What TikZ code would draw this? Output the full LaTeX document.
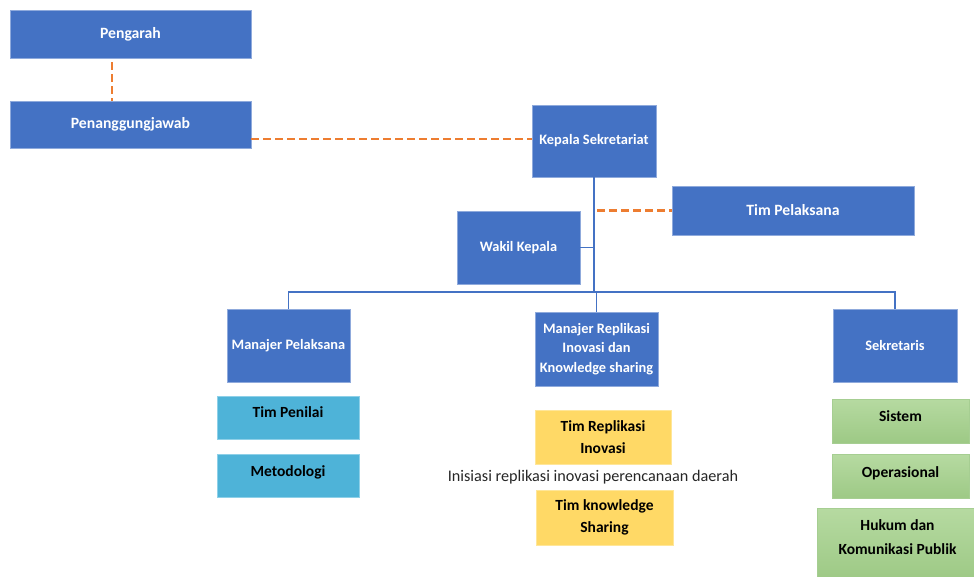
\documentclass[tikz,border=0pt]{standalone}
\usepackage{fontspec}
\setmainfont{Carlito}
\usepackage{tikz}
\usetikzlibrary{positioning}

\definecolor{kblue}{HTML}{4472C4}
\definecolor{kedge}{HTML}{8FAADC}
\definecolor{kcyan}{HTML}{4EB3D8}
\definecolor{kcyanedge}{HTML}{8ED0E8}
\definecolor{kyellow}{HTML}{FFD966}
\definecolor{kyellowedge}{HTML}{FFE699}
\definecolor{kgreentop}{HTML}{B6DAA1}
\definecolor{kgreenbot}{HTML}{9DC985}
\definecolor{kgreenedge}{HTML}{A6CE92}
\definecolor{korange}{HTML}{ED7D31}

\tikzset{
    box/.style={rectangle, inner sep=0pt, align=center, line width=0.8pt},
    bluebox/.style={box, fill=kblue, draw=kedge, text=white,
        font=\fontsize{14.4}{19.5}\selectfont\bfseries},
    bigtext/.style={font=\fontsize{15.7}{19.5}\selectfont\bfseries},
    cyanbox/.style={box, fill=kcyan, draw=kcyanedge, text=black, text depth=10pt,
        minimum width=142pt, minimum height=43pt,
        font=\fontsize{15.5}{22}\selectfont\bfseries},
    yellowbox/.style={box, fill=kyellow, draw=kyellowedge, text=black,
        font=\fontsize{15.5}{22}\selectfont\bfseries},
    greenbox/.style={box, top color=kgreentop, bottom color=kgreenbot, draw=kgreenedge,
        text=black, font=\fontsize{15.5}{24}\selectfont\bfseries},
    link/.style={draw=kblue, line width=1.2pt},
    dashlink/.style={draw=korange, line width=2.6pt, dash pattern=on 8pt off 4pt}
}

\begin{document}
\begin{tikzpicture}[x=1pt, y=-1pt]
    \useasboundingbox (0,0) rectangle (974,577);

    \node [bluebox, bigtext, minimum width=241pt, minimum height=48pt] (pg) at (130.5,34) {Pengarah};
    \node [bluebox, bigtext, minimum width=241pt, minimum height=47pt] (pj) at (130.5,124.5) {Penanggungjawab};
    \node [bluebox, minimum width=124pt, minimum height=72pt] (ks) at (594,141) {Kepala Sekretariat};
    \node [bluebox, bigtext, minimum width=242pt, minimum height=49pt] (tp) at (793,210.5) {Tim Pelaksana};
    \node [bluebox, minimum width=123pt, minimum height=73pt] (wk) at (518.5,247.5) {Wakil Kepala};

    \node [bluebox, minimum width=123pt, minimum height=73pt] (mp) at (288.5,345.5) {Manajer Pelaksana};
    \node [bluebox, minimum width=123pt, minimum height=74pt] (rep) at (596.5,349)
        {Manajer Replikasi\\Inovasi dan\\Knowledge sharing};
    \node [bluebox, minimum width=124pt, minimum height=73pt] (sk) at (895,345.5) {Sekretaris};

    % tim di bawah manajer
    \node [cyanbox] (tpn) at (288,417.5) {Tim Penilai};
    \node [cyanbox] (met) [below=15pt of tpn] {Metodologi};

    \node [yellowbox, minimum width=136pt, minimum height=54pt] (trep) at (603,437) {Tim Replikasi\\Inovasi};
    \node [inner sep=0pt, text=black!85, font=\fontsize{16.2}{19}\selectfont] (ket) at (593,477)
        {Inisiasi replikasi inovasi perencanaan daerah};
    \node [yellowbox, minimum width=137pt, minimum height=55pt] (tks) at (604.5,517.5) {Tim knowledge\\Sharing};

    \node [greenbox, minimum width=137pt, minimum height=44pt, text depth=10pt] (sis) at (900.5,421) {Sistem};
    \node [greenbox, minimum width=137pt, minimum height=44pt, text depth=10pt] (ops) [below=11pt of sis] {Operasional};
    \node [greenbox, minimum width=161pt, minimum height=72pt, text depth=14pt] (hkp) at (897.5,544)
        {Hukum dan\\Komunikasi Publik};

    % garis komando
    \coordinate (j) at (594,292);
    \draw [link] (ks.south) -- (j) -| (rep.north);
    \draw [link] (mp.north) -- (mp.north |- j) -- (sk.north |- j) -- (sk.north);
    \draw [link] (wk.east) -- (wk.east -| j);

    % garis koordinasi
    \draw [dashlink] ([xshift=-18.5pt,yshift=-4pt]pg.south) -- ([xshift=-18.5pt]pj.north);
    \draw [dashlink] ([yshift=-14.5pt]pj.east) -- ([yshift=2pt]ks.west);
    \draw [dashlink] ([xshift=3pt]ks.south |- tp.west) -- (tp.west);
\end{tikzpicture}
\end{document}
